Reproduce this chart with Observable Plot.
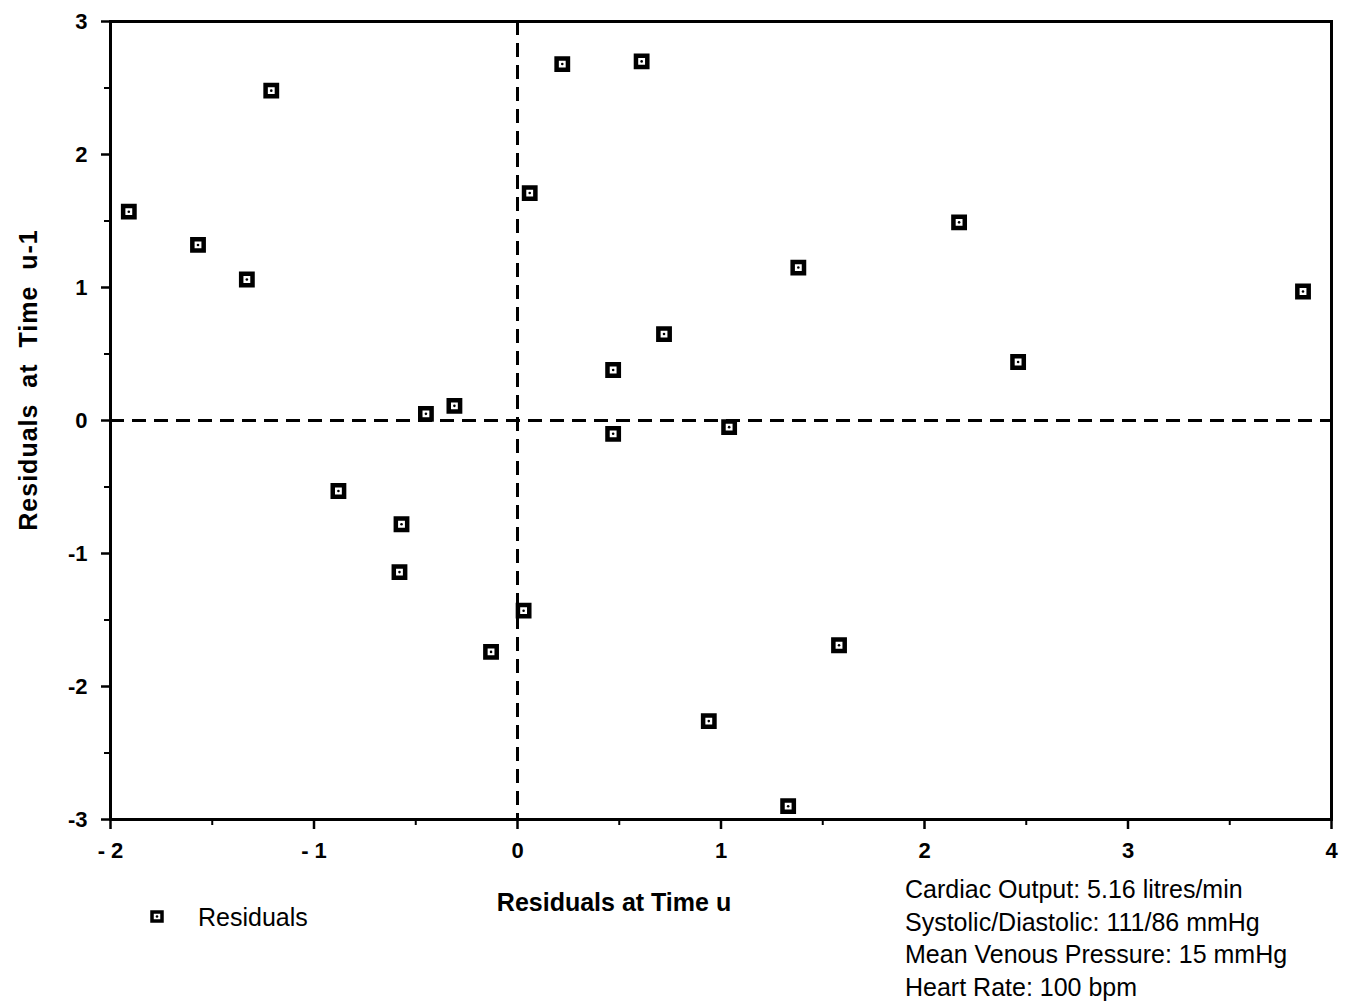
<!DOCTYPE html>
<html>
<head>
<meta charset="utf-8">
<script src="https://cdn.jsdelivr.net/npm/d3@7"></script>
<script src="https://cdn.jsdelivr.net/npm/@observablehq/plot@0.6"></script>
<style>
  html, body { margin: 0; padding: 0; background: white; }
  #wrap { position: relative; width: 1348px; height: 1004px; font-family: "Liberation Sans", Arial, Helvetica, sans-serif; color: black; }
  .ov { position: absolute; white-space: pre; line-height: 1; }
</style>
</head>
<body>
<div id="wrap"></div>
<script>
// Residuals at time u (x) and at time u-1 (y)
const residU     = [-1.91, -1.57, -1.33, -1.21, -0.88, -0.57, -0.58, -0.45, -0.31, -0.13, 0.03, 0.06, 0.22, 0.61, 0.47, 0.47, 0.72, 1.04, 0.94, 1.38, 1.33, 1.58, 2.17, 2.46, 3.86];
const residUprev = [ 1.57,  1.32,  1.06,  2.48, -0.53, -0.78, -1.14,  0.05,  0.11, -1.74, -1.43, 1.71, 2.68, 2.70, 0.38, -0.10, 0.65, -0.05, -2.26, 1.15, -2.90, -1.69, 1.49, 0.44, 0.97];

const xTicks = [-2, -1, 0, 1, 2, 3, 4];
const xTickLabels = ["- 2", "- 1", "0", "1", "2", "3", "4"];
const xMinor = [-1.5, -0.5, 0.5, 1.5, 2.5, 3.5];
const yTicks = [-3, -2, -1, 0, 1, 2, 3];
const yTickLabels = ["-3", "-2", "-1", "0", "1", "2", "3"];
const yMinor = [-2.5, -1.5, -0.5, 0.5, 1.5, 2.5];

const xLabel = "Residuals at Time u";
const yLabel = "Residuals  at  Time  u-1";
const legendLabel = "Residuals";
const captionLines = [
  "Cardiac Output: 5.16 litres/min",
  "Systolic/Diastolic: 111/86 mmHg",
  "Mean Venous Pressure: 15 mmHg",
  "Heart Rate: 100 bpm"
];

const data = residU.map((u, i) => ({u, p: residUprev[i]}));

const chart = Plot.plot({
  width: 1348,
  height: 1004,
  marginLeft: 110,
  marginRight: 17,
  marginTop: 21,
  marginBottom: 185,
  style: {fontFamily: "'Liberation Sans', Arial, sans-serif", background: "white", color: "black"},
  x: {domain: [-2, 4]},
  y: {domain: [-3, 3]},
  marks: [
    Plot.ruleY([0], {stroke: "black", strokeWidth: 3, strokeDasharray: "14,8"}),
    Plot.ruleX([0], {stroke: "black", strokeWidth: 3, strokeDasharray: "14,8"}),
    Plot.axisX({ticks: xTicks, tickFormat: d => xTickLabels[xTicks.indexOf(d)], tickSize: 10, tickPadding: 13, strokeWidth: 2.5, fontSize: 22, fontWeight: "bold", label: null}),
    Plot.axisX({ticks: xMinor, tickFormat: () => "", tickSize: 6, strokeWidth: 2, label: null}),
    Plot.axisY({ticks: yTicks, tickFormat: d => yTickLabels[yTicks.indexOf(d)], tickSize: 9, tickPadding: 14, strokeWidth: 2.5, fontSize: 22, fontWeight: "bold", label: null}),
    Plot.axisY({ticks: yMinor, tickFormat: () => "", tickSize: 6, strokeWidth: 2, label: null}),
    Plot.frame({stroke: "black", strokeWidth: 3}),
    Plot.dot(data, {x: "u", y: "p", symbol: "square", r: 6.4, stroke: "black", strokeWidth: 4.5, fill: "white"}),
    Plot.dot(data, {x: "u", y: "p", r: 1.3, fill: "black"})
  ]
});

const wrap = document.getElementById("wrap");
wrap.appendChild(chart);
chart.style.position = "absolute";
chart.style.left = "0";
chart.style.top = "0";

function ov(text, css) {
  const d = document.createElement("div");
  d.className = "ov";
  d.textContent = text;
  Object.assign(d.style, css);
  wrap.appendChild(d);
  return d;
}

ov(xLabel, {left: "614px", top: "902px", transform: "translate(-50%,-50%)", fontSize: "25px", fontWeight: "bold"});
ov(yLabel, {left: "28px", top: "380px", transform: "translate(-50%,-50%) rotate(-90deg)", fontSize: "25px", fontWeight: "bold", letterSpacing: "1px"});
ov(legendLabel, {left: "198px", top: "917px", transform: "translateY(-50%)", fontSize: "25px"});

// legend marker
const ns = "http://www.w3.org/2000/svg";
const lg = document.createElementNS(ns, "svg");
lg.setAttribute("width", "24"); lg.setAttribute("height", "24");
lg.style.position = "absolute"; lg.style.left = "145px"; lg.style.top = "905px";
const sq = document.createElementNS(ns, "rect");
sq.setAttribute("x", "7"); sq.setAttribute("y", "7"); sq.setAttribute("width", "10"); sq.setAttribute("height", "9");
sq.setAttribute("fill", "white"); sq.setAttribute("stroke", "black"); sq.setAttribute("stroke-width", "3.5");
lg.appendChild(sq);
const c = document.createElementNS(ns, "circle");
c.setAttribute("cx", "12"); c.setAttribute("cy", "11.5"); c.setAttribute("r", "1.3"); c.setAttribute("fill", "black");
lg.appendChild(c);
wrap.appendChild(lg);

captionLines.forEach((t, i) => {
  ov(t, {left: "905px", top: (889 + i * 32.7) + "px", transform: "translateY(-50%)", fontSize: "25px"});
});
</script>
</body>
</html>
